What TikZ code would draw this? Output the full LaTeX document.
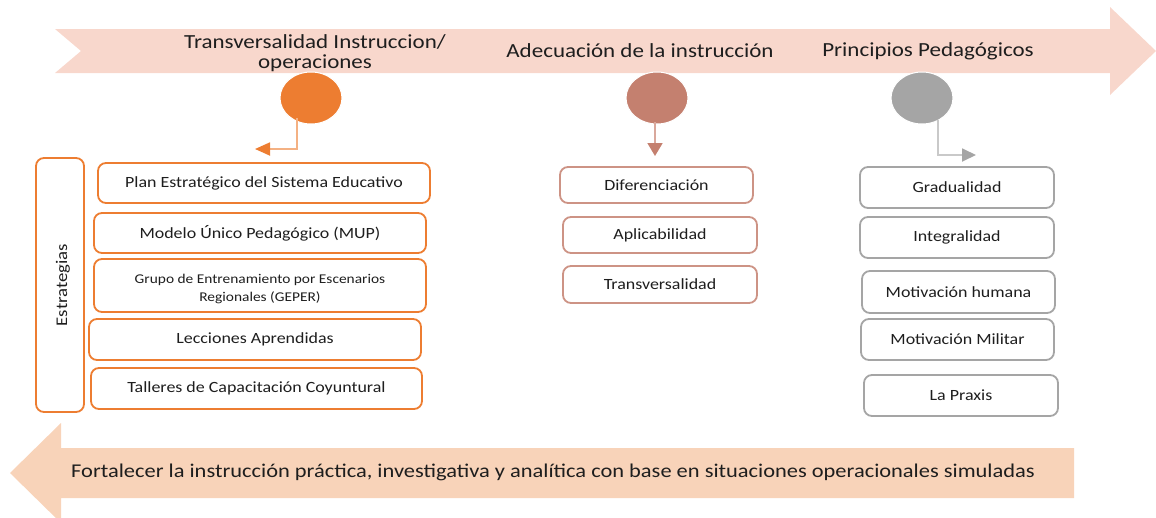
\documentclass[tikz,border=0pt]{standalone}
\usepackage{fontspec}
\setmainfont[FakeStretch=1.15]{Carlito}
\usetikzlibrary{arrows.meta,shapes.geometric}
\definecolor{arrowtop}{HTML}{F8D7CC}
\definecolor{arrowbot}{HTML}{F8D3B9}
\definecolor{corange}{HTML}{ED7D31}
\definecolor{lorange}{HTML}{F4B183}
\definecolor{crose}{HTML}{C4806F}
\definecolor{lrose}{HTML}{D9A89C}
\definecolor{cgrey}{HTML}{A5A5A5}
\definecolor{lgrey}{HTML}{C9C9C9}
\definecolor{txt}{HTML}{1E1E1E}
\tikzset{
  box/.style={draw, line width=1.8pt, rounded corners=8pt, fill=white, text=txt, font=\fontsize{15.6}{18}\selectfont, align=center, inner sep=0pt},
  obox/.style={box, draw=corange},
  rbox/.style={box, draw=crose!85},
  gbox/.style={box, draw=cgrey},
  dot/.style={ellipse, minimum width=62pt, minimum height=52pt, inner sep=0pt, draw=white, line width=1pt},
  head/.style={font=\fontsize{20}{20}\selectfont, text=txt, align=center},
}
\begin{document}
\begin{tikzpicture}[x=1pt,y=-1pt]
\useasboundingbox (0,0) rectangle (1156,517);
\clip (0,0) rectangle (1156,517);
% top arrow
\fill[arrowtop] (55,29) -- (1110,29) -- (1110,7) -- (1156,51) -- (1110,95) -- (1110,73) -- (55,73) -- (81,51) -- cycle;
% bottom arrow
\fill[arrowbot] (10,473) -- (61,423) -- (61,448) -- (1074,448) -- (1074,498) -- (61,498) -- (61,523) -- cycle;
\node[font=\fontsize{19.5}{20}\selectfont, text=txt] (bottxt) at (553,472) {Fortalecer la instrucción práctica, investigativa y analítica con base en situaciones operacionales simuladas};
% headings
\node[head] (h1) at (315,53) {Transversalidad Instruccion/\\operaciones};
\node[head] (h2) at (640,51) {Adecuación de la instrucción};
\node[head] (h3) at (928,51) {Principios Pedagógicos};
% circles
\node[dot, fill=corange] (c1) at (311,98) {};
\node[dot, fill=crose] (c2) at (657,98) {};
\node[dot, fill=cgrey] (c3) at (922,98) {};
% connectors
\coordinate (c1a) at (297,118);
\coordinate (c1t) at (255,149);
\coordinate (c2a) at (655,122);
\coordinate (c2t) at (655,156);
\coordinate (c3a) at (938,120);
\coordinate (c3t) at (976,155);
\draw[lorange, line width=1.8pt, -{Triangle[length=15pt,width=13pt,color=corange,fill=corange]}] (c1a) |- (c1t);
\draw[lrose, line width=1.8pt, -{Triangle[length=13pt,width=15pt,color=crose,fill=crose]}] (c2a) -- (c2t);
\draw[lgrey, line width=1.8pt, -{Triangle[length=14pt,width=13pt,color=cgrey,fill=cgrey]}] (c3a) |- (c3t);
% left column
\draw[corange, line width=1.8pt, rounded corners=8pt, fill=white] (36,158) rectangle (84,412);
\node[rotate=90, text=txt, font=\fontsize{16.3}{18}\selectfont] (estr) at (63,285) {Estrategias};
\node[obox, minimum width=332pt, minimum height=40pt] (l1) at (264,183) {Plan Estratégico del Sistema Educativo};
\node[obox, minimum width=332pt, minimum height=40pt] (l2) at (260,233) {Modelo Único Pedagógico (MUP)};
\node[obox, minimum width=332pt, minimum height=53pt,
  label={[font=\fontsize{13.4}{18}\selectfont, text=txt, align=center, yshift=-3pt]center:{Grupo de Entrenamiento por Escenarios\\Regionales (GEPER)}}] (l3) at (260,285.5) {};
\node[obox, minimum width=332pt, minimum height=41pt] (l4) at (255,339.5) {Lecciones Aprendidas};
\node[obox, minimum width=331pt, minimum height=41pt] (l5) at (256.5,388.5) {Talleres de Capacitación Coyuntural};
% middle column
\node[rbox, minimum width=193pt, minimum height=36pt] (m1) at (656.5,185) {Diferenciación};
\node[rbox, minimum width=194pt, minimum height=36pt] (m2) at (660,235) {Aplicabilidad};
\node[rbox, minimum width=194pt, minimum height=37pt] (m3) at (660,284.5) {Transversalidad};
% right column
\node[gbox, minimum width=194pt, minimum height=41pt] (r1) at (957,187.5) {Gradualidad};
\node[gbox, minimum width=194pt, minimum height=41pt] (r2) at (957,237.5) {Integralidad};
\node[gbox, minimum width=193pt, minimum height=42pt] (r3) at (958.5,292) {Motivación humana};
\node[gbox, minimum width=193pt, minimum height=41pt] (r4) at (957.5,339.5) {Motivación Militar};
\node[gbox, minimum width=194pt, minimum height=41pt] (r5) at (961,395.5) {La Praxis};
\end{tikzpicture}
\end{document}
